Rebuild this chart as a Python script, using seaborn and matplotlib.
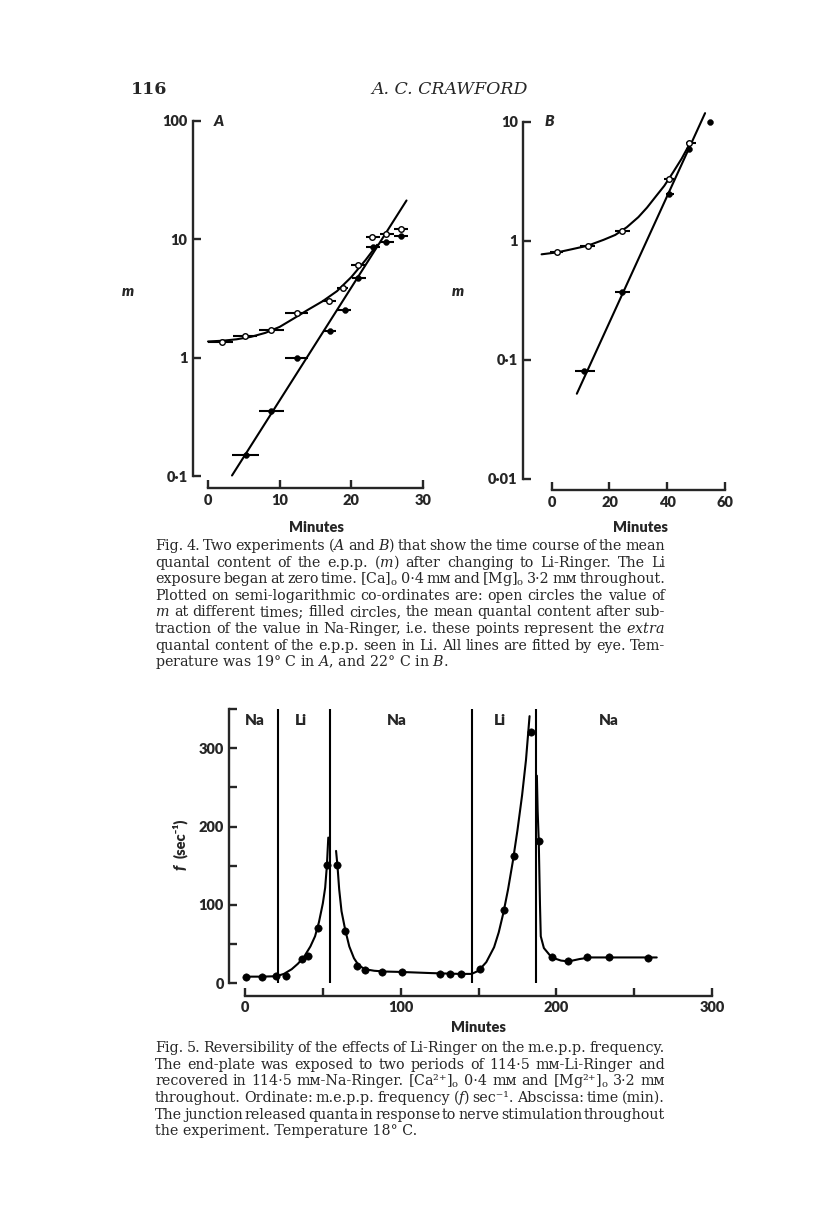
import numpy as np
import pandas as pd
import matplotlib
matplotlib.use("Agg")
import matplotlib.pyplot as plt
import seaborn as sns

# ---- Fig. 4A : time (min) vs mean quantal content m ----
a_open_t = [1.95, 5.1, 8.8, 12.4, 16.9, 18.8, 20.9, 22.9, 24.9, 27.0]
a_open_m = [1.36, 1.51, 1.72, 2.4, 3.03, 3.88, 6.05, 10.4, 11.0, 12.3]
a_open_lo = [0.0, 3.5, 7.1, 10.7, 15.9, 18.0, 20.0, 22.0, 24.0, 25.9]
a_open_hi = [3.5, 6.8, 10.6, 14.0, 17.9, 19.6, 22.0, 24.0, 25.9, 27.9]

a_fill_t = [5.3, 8.8, 12.4, 17.0, 19.1, 20.9, 23.0, 24.9, 27.0]
a_fill_m = [0.151, 0.352, 1.0, 1.69, 2.55, 4.74, 8.6, 9.5, 10.7]
a_fill_lo = [3.3, 7.1, 10.7, 16.0, 18.0, 20.1, 22.0, 24.0, 25.9]
a_fill_hi = [7.1, 10.6, 14.0, 17.9, 20.0, 22.0, 24.0, 25.9, 27.9]

a_curve_t = [0, 2, 4, 6, 8, 10, 12, 14, 16, 18, 20, 22, 23.6]
a_curve_m = [1.37, 1.39, 1.43, 1.50, 1.62, 1.82, 2.15, 2.55, 3.0, 3.65, 4.8, 6.7, 9.0]
a_line_t = [3.35, 27.7]
a_line_m = [0.101, 21.3]

# ---- Fig. 4B ----
b_open_t = [2.0, 12.5, 24.4, 40.7, 47.6]
b_open_m = [0.80, 0.91, 1.21, 3.30, 6.59]
b_open_lo = [-0.5, 9.9, 22.0, 39.0, 46.4]
b_open_hi = [4.0, 15.1, 27.0, 42.3, 49.9]

b_fill_t = [11.3, 24.4, 40.7, 47.6, 54.9]
b_fill_m = [0.081, 0.372, 2.45, 5.87, 10.0]
b_fill_lo = [8.1, 22.0, 39.4, 46.4, 54.3]
b_fill_hi = [15.1, 27.0, 42.3, 48.7, 55.5]

b_curve_t = [-3.5, 2.0, 7, 12.5, 18, 22, 26, 30, 33, 36, 39, 42, 45, 47.6]
b_curve_m = [0.77, 0.80, 0.85, 0.91, 1.02, 1.12, 1.30, 1.58, 1.90, 2.35, 2.9,
             3.75, 4.9, 6.4]
b_line_t = [8.7, 53.1]
b_line_m = [0.052, 11.8]

# ---- Fig. 5 : m.e.p.p. frequency ----
f5_t = [0.9, 11.1, 19.7, 26.5, 36.5, 40.3, 46.6, 52.6, 59.4, 64.4, 72.2, 77.0,
        88.1, 100.9, 125.0, 131.7, 138.5, 150.8, 166.2, 172.8, 184.0, 188.7,
        197.0, 207.2, 219.7, 233.7, 259.1]
f5_f = [8.5, 8.5, 9.8, 9.8, 31, 35, 70.5, 151, 151, 67, 22.5, 17,
        14, 14, 11.9, 11.9, 11.9, 18.3, 93.5, 162, 321, 182,
        33, 28, 33, 33, 32]

seg1_t = [0, 10, 20, 25, 30, 34, 38, 42, 45, 47.5, 50, 51.5, 52.6, 53.5]
seg1_f = [8.5, 8.5, 9, 12, 18, 25, 34, 47, 60, 78, 102, 122, 150, 186]
seg2_t = [58.5, 59.4, 60.5, 62, 64.4, 67, 70, 73, 77, 83, 90, 100, 120, 138,
          145.6, 150, 155, 160, 163, 166, 169, 172, 175, 178, 180.5, 182.8]
seg2_f = [169, 150, 120, 92, 68, 47, 32, 23, 18, 16, 15, 14.5, 13, 12,
          12, 16, 27, 46, 65, 90, 120, 155, 195, 240, 285, 341]
seg3_t = [187.5, 188, 188.7, 189.5, 190, 192, 197, 203, 208, 215, 222, 240, 264.5]
seg3_f = [265, 220, 182, 100, 60, 45, 33, 29, 28, 31, 33, 33, 33]

switch_t = [21.1, 54.9, 145.6, 186.8]
soln_t = [6, 36, 97.6, 164, 233.7]
soln_lab = ["Na", "Li", "Na", "Li", "Na"]

sns.set_style("ticks")
plt.rcParams["font.family"] = ["Lato", "DejaVu Sans"]
plt.rcParams["mathtext.fontset"] = "dejavuserif"

W, H = 816, 1226
fig = plt.figure(figsize=(W / 100, H / 100), dpi=100)

LW = 1.5
SP = 1.7
SANS = ["Lato", "DejaVu Sans"]


def px_axes(x0, x1, ytop, ybot):
    return fig.add_axes([x0 / W, 1 - ybot / H, (x1 - x0) / W, (ybot - ytop) / H])


def style_axes(ax, left_out, bottom_out, ybounds, xbounds):
    sns.despine(ax=ax)
    ax.spines["left"].set_position(("outward", left_out * 0.72))
    ax.spines["bottom"].set_position(("outward", bottom_out * 0.72))
    ax.spines["left"].set_bounds(*ybounds)
    ax.spines["bottom"].set_bounds(*xbounds)
    for s in ("left", "bottom"):
        ax.spines[s].set_linewidth(SP)
    ax.tick_params(direction="in", length=6, width=SP, labelsize=10.5, pad=4)
    ax.tick_params(axis="y", which="minor", length=0)
    for lab in ax.get_xticklabels() + ax.get_yticklabels():
        lab.set_fontweight("heavy")
    ax.set_xlabel("")
    ax.set_ylabel("")
    ax.patch.set_alpha(0)


def draw_panel(ax, ot, om, olo, ohi, ft, fm, flo, fhi, ct, cm, lt, lm):
    sns.lineplot(x=ct, y=cm, ax=ax, color="black", lw=LW, sort=False,
                 estimator=None, clip_on=False)
    sns.lineplot(x=lt, y=lm, ax=ax, color="black", lw=LW, sort=False,
                 estimator=None, clip_on=False)
    ax.hlines(om, olo, ohi, color="black", lw=LW, clip_on=False)
    ax.hlines(fm, flo, fhi, color="black", lw=LW, clip_on=False)
    sns.scatterplot(x=ot, y=om, ax=ax, marker="o", s=16, facecolor="white",
                    edgecolor="black", linewidth=1.0, zorder=5, clip_on=False)
    sns.scatterplot(x=ft, y=fm, ax=ax, marker="o", s=18, color="black",
                    edgecolor="black", zorder=5, clip_on=False)


def dot_fmt(v):
    s = f"{v:g}"
    return s.replace(".", "·")


# panel A
axA = px_axes(208, 423, 121, 476)
draw_panel(axA, a_open_t, a_open_m, a_open_lo, a_open_hi,
           a_fill_t, a_fill_m, a_fill_lo, a_fill_hi,
           a_curve_t, a_curve_m, a_line_t, a_line_m)
axA.set_yscale("log")
axA.set_xlim(0, 30)
axA.set_ylim(0.1, 100)
axA.set_xticks([0, 10, 20, 30])
axA.set_yticks([0.1, 1, 10, 100])
axA.set_yticklabels([dot_fmt(v) for v in [0.1, 1, 10, 100]])
axA.set_xticklabels(["0", "10", "20", "30"])
style_axes(axA, 15, 12, (0.1, 100), (0, 30))
axA.yaxis.set_minor_locator(matplotlib.ticker.NullLocator())

# panel B
axB = px_axes(551.7, 725, 121.7, 479)
draw_panel(axB, b_open_t, b_open_m, b_open_lo, b_open_hi,
           b_fill_t, b_fill_m, b_fill_lo, b_fill_hi,
           b_curve_t, b_curve_m, b_line_t, b_line_m)
axB.set_yscale("log")
axB.set_xlim(0, 60)
axB.set_ylim(0.01, 10)
axB.set_xticks([0, 20, 40, 60])
axB.set_yticks([0.01, 0.1, 1, 10])
axB.set_yticklabels([dot_fmt(v) for v in [0.01, 0.1, 1, 10]])
axB.set_xticklabels(["0", "20", "40", "60"])
style_axes(axB, 28.4, 11, (0.01, 10), (0, 60))
axB.yaxis.set_minor_locator(matplotlib.ticker.NullLocator())

# Fig. 5
ax5 = px_axes(245, 712, 709.1, 983.3)
ax5.vlines(switch_t, 0, 350, color="black", lw=LW)
for seg_t, seg_f in [(seg1_t, seg1_f), (seg2_t, seg2_f), (seg3_t, seg3_f)]:
    sns.lineplot(x=seg_t, y=seg_f, ax=ax5, color="black", lw=LW, sort=False,
                 estimator=None, clip_on=False)
sns.scatterplot(x=f5_t, y=f5_f, ax=ax5, marker="o", s=28, color="black",
                edgecolor="black", zorder=5, clip_on=False)
ax5.set_xlim(0, 300)
ax5.set_ylim(0, 350)
ax5.set_xticks(np.arange(0, 301, 50))
ax5.set_xticklabels(["0", "", "100", "", "200", "", "300"])
ax5.set_yticks([0, 50, 100, 150, 200, 250, 300, 350])
ax5.set_yticklabels(["0", "", "100", "", "200", "", "300", ""])
style_axes(ax5, 15.7, 12.4, (0, 350), (0, 300))
for t, lab in zip(soln_t, soln_lab):
    ax5.text(t, 336, lab, ha="center", va="center", fontsize=11,
             fontweight="heavy", family=SANS)


def ftext(x, y, s, **kw):
    return fig.text(x / W, 1 - y / H, s, **kw)


# axis titles
lab_kw = dict(ha="center", va="center", fontsize=10.5, fontweight="heavy", family=SANS)
ftext(316, 527, "Minutes", **lab_kw)
ftext(640, 527, "Minutes", **lab_kw)
ftext(478, 1027, "Minutes", **lab_kw)
it_kw = dict(ha="center", va="center", fontsize=11, fontweight="heavy",
             style="italic", family=SANS)
ftext(219, 121, "A", **it_kw)
ftext(549, 122, "B", **it_kw)
ftext(128, 292, "m", **it_kw)
ftext(458, 292, "m", **it_kw)
ftext(180, 867, "f", rotation=90, **it_kw)
ftext(180, 838, "(sec⁻¹)", ha="center", va="center", fontsize=10.5,
      fontweight="heavy", rotation=90, family=SANS)

# running head
ftext(131, 94, "116", ha="left", va="baseline", fontsize=12.5,
      fontweight="bold", family=["DejaVu Serif"])
ftext(450, 94, "A. C. CRAWFORD", ha="center", va="baseline", fontsize=12.5,
      style="italic", family=["DejaVu Serif"])

# captions, justified between x0 and x1 (last line set ragged)
renderer = fig.canvas.get_renderer()
CAP = dict(fontsize=10.3, family=["DejaVu Serif", "DejaVu Sans"], va="baseline", ha="left")


def justified(lines, ytop, step, x0=155, x1=665):
    for i, line in enumerate(lines):
        y = ytop + i * step
        if i == len(lines) - 1:
            ftext(x0, y, line, **CAP)
            continue
        words = line.split(" ")
        texts = [ftext(x0, y, w, **CAP) for w in words]
        widths = [t.get_window_extent(renderer).width for t in texts]
        gap = (x1 - x0 - sum(widths)) / (len(words) - 1)
        x = x0
        for t, w in zip(texts, widths):
            t.set_x(x / W)
            x += w + gap


cap4 = [
    "Fig. 4. Two experiments ($A$ and $B$) that show the time course of the mean",
    "quantal content of the e.p.p. ($m$) after changing to Li-Ringer. The Li",
    "exposure began at zero time. [Ca]$_\\mathrm{o}$ 0·4 mᴍ and [Mg]$_\\mathrm{o}$ 3·2 mᴍ throughout.",
    "Plotted on semi-logarithmic co-ordinates are: open circles the value of",
    "$m$ at different times; filled circles, the mean quantal content after sub-",
    "traction of the value in Na-Ringer, i.e. these points represent the $extra$",
    "quantal content of the e.p.p. seen in Li. All lines are fitted by eye. Tem-",
    "perature was 19° C in $A$, and 22° C in $B$.",
]
cap5 = [
    "Fig. 5. Reversibility of the effects of Li-Ringer on the m.e.p.p. frequency.",
    "The end-plate was exposed to two periods of 114·5 mᴍ-Li-Ringer and",
    "recovered in 114·5 mᴍ-Na-Ringer. [Ca²⁺]$_\\mathrm{o}$ 0·4 mᴍ and [Mg²⁺]$_\\mathrm{o}$ 3·2 mᴍ",
    "throughout. Ordinate: m.e.p.p. frequency ($f$) sec⁻¹. Abscissa: time (min).",
    "The junction released quanta in response to nerve stimulation throughout",
    "the experiment. Temperature 18° C.",
]
justified(cap4, 550, 16.6)
justified(cap5, 1052, 16.7)

fig.savefig("out.png", dpi=100)
